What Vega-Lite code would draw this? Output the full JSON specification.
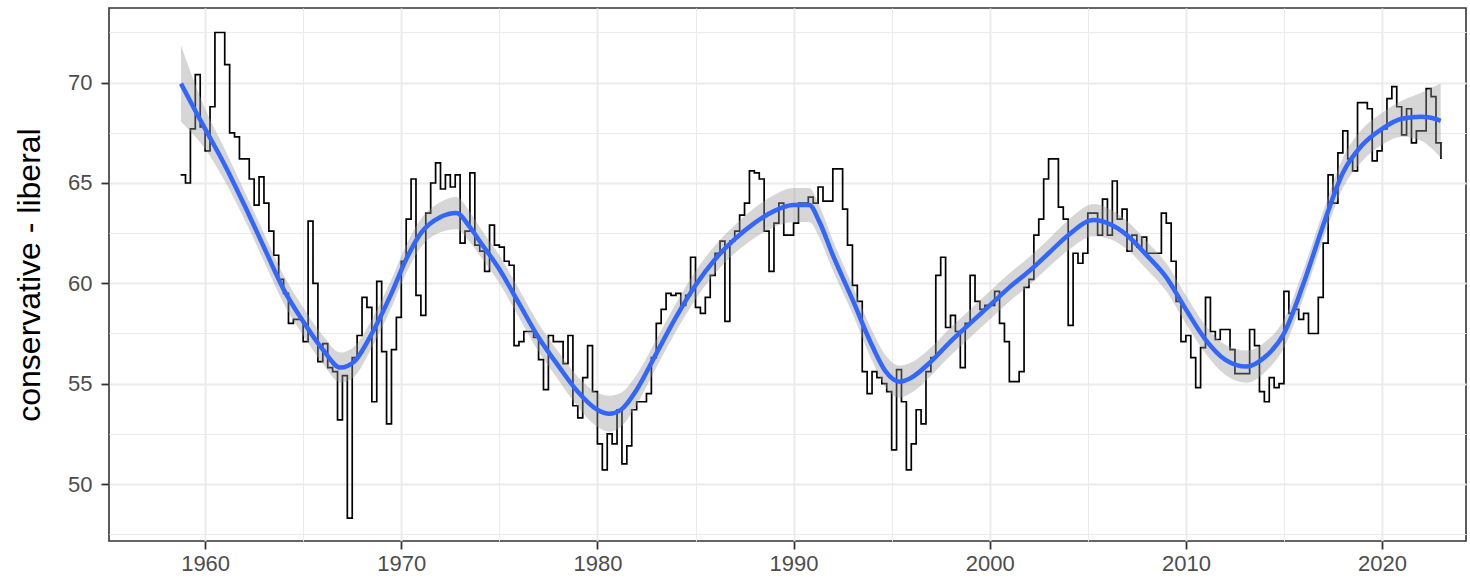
{
  "$schema": "https://vega.github.io/schema/vega-lite/v6.json",
  "width": 1357,
  "height": 533,
  "autosize": "none",
  "padding": {"left": 109, "top": 8, "right": 4, "bottom": 43},
  "background": "white",
  "config": {
    "view": {"stroke": "#333333", "strokeWidth": 1.6},
    "axis": {"labelFont": "Liberation Sans", "titleFont": "Liberation Sans", "domain": false, "labelFlush": false, "labelOverlap": false}
  },
  "datasets": {
    "series": [
      {"t":1958.75,"v":65.4},{"t":1959.0,"v":65.0},{"t":1959.25,"v":67.7},{"t":1959.5,"v":70.4},{"t":1959.75,"v":67.8},
      {"t":1960.0,"v":66.6},{"t":1960.25,"v":68.8},{"t":1960.5,"v":72.5},{"t":1960.75,"v":72.5},
      {"t":1961.0,"v":70.9},{"t":1961.25,"v":67.5},{"t":1961.5,"v":67.3},{"t":1961.75,"v":66.2},
      {"t":1962.0,"v":66.2},{"t":1962.25,"v":65.2},{"t":1962.5,"v":63.9},{"t":1962.75,"v":65.3},
      {"t":1963.0,"v":64.0},{"t":1963.25,"v":62.6},{"t":1963.5,"v":61.4},{"t":1963.75,"v":60.2},
      {"t":1964.0,"v":59.5},{"t":1964.25,"v":58.0},{"t":1964.5,"v":58.2},{"t":1964.75,"v":58.2},
      {"t":1965.0,"v":57.1},{"t":1965.25,"v":63.1},{"t":1965.5,"v":60.0},{"t":1965.75,"v":56.1},
      {"t":1966.0,"v":57.0},{"t":1966.25,"v":55.8},{"t":1966.5,"v":55.6},{"t":1966.75,"v":53.2},
      {"t":1967.0,"v":55.4},{"t":1967.25,"v":48.3},{"t":1967.5,"v":56.3},{"t":1967.75,"v":57.4},
      {"t":1968.0,"v":59.3},{"t":1968.25,"v":58.8},{"t":1968.5,"v":54.1},{"t":1968.75,"v":60.1},
      {"t":1969.0,"v":56.6},{"t":1969.25,"v":53.0},{"t":1969.5,"v":56.7},{"t":1969.75,"v":58.3},
      {"t":1970.0,"v":61.1},{"t":1970.25,"v":63.2},{"t":1970.5,"v":65.2},{"t":1970.75,"v":59.4},
      {"t":1971.0,"v":58.4},{"t":1971.25,"v":63.5},{"t":1971.5,"v":65.0},{"t":1971.75,"v":66.0},
      {"t":1972.0,"v":64.7},{"t":1972.25,"v":65.4},{"t":1972.5,"v":64.8},{"t":1972.75,"v":65.4},
      {"t":1973.0,"v":62.0},{"t":1973.25,"v":62.6},{"t":1973.5,"v":65.5},{"t":1973.75,"v":61.9},
      {"t":1974.0,"v":61.6},{"t":1974.25,"v":60.6},{"t":1974.5,"v":62.9},{"t":1974.75,"v":61.9},
      {"t":1975.0,"v":61.8},{"t":1975.25,"v":61.1},{"t":1975.5,"v":60.9},{"t":1975.75,"v":56.9},
      {"t":1976.0,"v":57.1},{"t":1976.25,"v":57.6},{"t":1976.5,"v":57.6},{"t":1976.75,"v":57.3},
      {"t":1977.0,"v":56.2},{"t":1977.25,"v":54.7},{"t":1977.5,"v":57.4},{"t":1977.75,"v":57.1},
      {"t":1978.0,"v":57.1},{"t":1978.25,"v":56.0},{"t":1978.5,"v":57.4},{"t":1978.75,"v":53.9},
      {"t":1979.0,"v":53.3},{"t":1979.25,"v":55.3},{"t":1979.5,"v":56.9},{"t":1979.75,"v":54.6},
      {"t":1980.0,"v":52.0},{"t":1980.25,"v":50.7},{"t":1980.5,"v":52.5},{"t":1980.75,"v":52.0},
      {"t":1981.0,"v":53.7},{"t":1981.25,"v":51.0},{"t":1981.5,"v":51.9},{"t":1981.75,"v":53.7},
      {"t":1982.0,"v":54.1},{"t":1982.25,"v":54.1},{"t":1982.5,"v":54.5},{"t":1982.75,"v":56.3},
      {"t":1983.0,"v":58.0},{"t":1983.25,"v":58.7},{"t":1983.5,"v":59.5},{"t":1983.75,"v":59.4},
      {"t":1984.0,"v":59.5},{"t":1984.25,"v":58.9},{"t":1984.5,"v":59.4},{"t":1984.75,"v":61.3},
      {"t":1985.0,"v":58.8},{"t":1985.25,"v":58.5},{"t":1985.5,"v":59.3},{"t":1985.75,"v":60.4},
      {"t":1986.0,"v":61.5},{"t":1986.25,"v":62.1},{"t":1986.5,"v":58.1},{"t":1986.75,"v":62.1},
      {"t":1987.0,"v":62.6},{"t":1987.25,"v":63.4},{"t":1987.5,"v":64.0},{"t":1987.75,"v":65.6},
      {"t":1988.0,"v":65.5},{"t":1988.25,"v":65.2},{"t":1988.5,"v":62.6},{"t":1988.75,"v":60.6},
      {"t":1989.0,"v":63.0},{"t":1989.25,"v":64.0},{"t":1989.5,"v":62.4},{"t":1989.75,"v":62.4},
      {"t":1990.0,"v":63.0},{"t":1990.25,"v":64.0},{"t":1990.5,"v":64.0},{"t":1990.75,"v":64.3},
      {"t":1991.0,"v":64.0},{"t":1991.25,"v":64.8},{"t":1991.5,"v":64.1},{"t":1991.75,"v":64.1},
      {"t":1992.0,"v":65.7},{"t":1992.25,"v":65.7},{"t":1992.5,"v":63.7},{"t":1992.75,"v":61.9},
      {"t":1993.0,"v":59.9},{"t":1993.25,"v":59.1},{"t":1993.5,"v":55.6},{"t":1993.75,"v":54.5},
      {"t":1994.0,"v":55.6},{"t":1994.25,"v":55.3},{"t":1994.5,"v":55.0},{"t":1994.75,"v":54.6},
      {"t":1995.0,"v":51.7},{"t":1995.25,"v":55.7},{"t":1995.5,"v":54.1},{"t":1995.75,"v":50.7},
      {"t":1996.0,"v":52.0},{"t":1996.25,"v":53.7},{"t":1996.5,"v":53.0},{"t":1996.75,"v":55.6},
      {"t":1997.0,"v":56.3},{"t":1997.25,"v":60.4},{"t":1997.5,"v":61.3},{"t":1997.75,"v":57.8},
      {"t":1998.0,"v":58.4},{"t":1998.25,"v":57.6},{"t":1998.5,"v":55.8},{"t":1998.75,"v":58.0},
      {"t":1999.0,"v":60.4},{"t":1999.25,"v":59.1},{"t":1999.5,"v":58.7},{"t":1999.75,"v":58.9},
      {"t":2000.0,"v":58.9},{"t":2000.25,"v":59.6},{"t":2000.5,"v":58.0},{"t":2000.75,"v":57.1},
      {"t":2001.0,"v":55.1},{"t":2001.25,"v":55.1},{"t":2001.5,"v":55.6},{"t":2001.75,"v":59.8},
      {"t":2002.0,"v":60.2},{"t":2002.25,"v":62.4},{"t":2002.5,"v":63.2},{"t":2002.75,"v":65.2},
      {"t":2003.0,"v":66.2},{"t":2003.25,"v":66.2},{"t":2003.5,"v":63.8},{"t":2003.75,"v":63.2},
      {"t":2004.0,"v":57.9},{"t":2004.25,"v":61.5},{"t":2004.5,"v":61.0},{"t":2004.75,"v":61.5},
      {"t":2005.0,"v":63.5},{"t":2005.25,"v":63.5},{"t":2005.5,"v":62.4},{"t":2005.75,"v":64.2},
      {"t":2006.0,"v":62.4},{"t":2006.25,"v":65.1},{"t":2006.5,"v":63.2},{"t":2006.75,"v":63.7},
      {"t":2007.0,"v":61.6},{"t":2007.25,"v":62.4},{"t":2007.5,"v":61.8},{"t":2007.75,"v":62.3},
      {"t":2008.0,"v":61.5},{"t":2008.25,"v":61.5},{"t":2008.5,"v":61.5},{"t":2008.75,"v":63.5},
      {"t":2009.0,"v":63.0},{"t":2009.25,"v":61.1},{"t":2009.5,"v":59.1},{"t":2009.75,"v":57.1},
      {"t":2010.0,"v":57.4},{"t":2010.25,"v":56.3},{"t":2010.5,"v":54.8},{"t":2010.75,"v":56.8},
      {"t":2011.0,"v":59.3},{"t":2011.25,"v":57.6},{"t":2011.5,"v":57.2},{"t":2011.75,"v":57.7},
      {"t":2012.0,"v":57.7},{"t":2012.25,"v":56.7},{"t":2012.5,"v":55.5},{"t":2012.75,"v":55.5},
      {"t":2013.0,"v":55.5},{"t":2013.25,"v":57.7},{"t":2013.5,"v":56.9},{"t":2013.75,"v":54.6},
      {"t":2014.0,"v":54.1},{"t":2014.25,"v":55.3},{"t":2014.5,"v":54.8},{"t":2014.75,"v":55.0},
      {"t":2015.0,"v":59.6},{"t":2015.25,"v":58.5},{"t":2015.5,"v":58.7},{"t":2015.75,"v":58.2},
      {"t":2016.0,"v":58.5},{"t":2016.25,"v":57.5},{"t":2016.5,"v":57.5},{"t":2016.75,"v":59.3},
      {"t":2017.0,"v":62.0},{"t":2017.25,"v":65.4},{"t":2017.5,"v":64.0},{"t":2017.75,"v":66.5},
      {"t":2018.0,"v":67.6},{"t":2018.25,"v":66.2},{"t":2018.5,"v":65.6},{"t":2018.75,"v":69.0},
      {"t":2019.0,"v":69.0},{"t":2019.25,"v":68.7},{"t":2019.5,"v":66.1},{"t":2019.75,"v":66.6},
      {"t":2020.0,"v":67.7},{"t":2020.25,"v":69.2},{"t":2020.5,"v":69.8},{"t":2020.75,"v":68.8},
      {"t":2021.0,"v":67.4},{"t":2021.25,"v":68.7},{"t":2021.5,"v":67.0},{"t":2021.75,"v":67.6},
      {"t":2022.0,"v":67.6},{"t":2022.25,"v":69.7},{"t":2022.5,"v":69.3},{"t":2022.75,"v":67.0},
      {"t":2023.0,"v":66.2}
    ],
    "smooth": [
      {"t":1958.77,"fit":69.95,"lo":68.05,"hi":71.85},
      {"t":1959.5,"fit":68.6,"lo":67.3,"hi":69.9},
      {"t":1960,"fit":67.7,"lo":66.7,"hi":68.7},
      {"t":1961,"fit":65.9,"lo":65.1,"hi":66.7},
      {"t":1962,"fit":63.9,"lo":63.2,"hi":64.6},
      {"t":1963,"fit":61.8,"lo":61.1,"hi":62.5},
      {"t":1964,"fit":59.7,"lo":59.0,"hi":60.4},
      {"t":1965,"fit":58.1,"lo":57.4,"hi":58.8},
      {"t":1966,"fit":56.7,"lo":56.0,"hi":57.4},
      {"t":1966.9,"fit":55.8,"lo":55.05,"hi":56.55},
      {"t":1967.6,"fit":56.1,"lo":55.35,"hi":56.85},
      {"t":1968.5,"fit":57.5,"lo":56.8,"hi":58.2},
      {"t":1969.5,"fit":59.5,"lo":58.8,"hi":60.2},
      {"t":1970.25,"fit":61.2,"lo":60.5,"hi":61.9},
      {"t":1971,"fit":62.5,"lo":61.8,"hi":63.2},
      {"t":1972,"fit":63.3,"lo":62.55,"hi":64.05},
      {"t":1972.8,"fit":63.5,"lo":62.7,"hi":64.3},
      {"t":1973.5,"fit":62.8,"lo":62.05,"hi":63.55},
      {"t":1974,"fit":62.1,"lo":61.4,"hi":62.8},
      {"t":1975,"fit":60.7,"lo":60.0,"hi":61.4},
      {"t":1976,"fit":59.0,"lo":58.3,"hi":59.7},
      {"t":1977,"fit":57.3,"lo":56.6,"hi":58.0},
      {"t":1978,"fit":55.9,"lo":55.2,"hi":56.6},
      {"t":1979,"fit":54.6,"lo":53.85,"hi":55.35},
      {"t":1980,"fit":53.7,"lo":52.85,"hi":54.55},
      {"t":1980.6,"fit":53.5,"lo":52.6,"hi":54.4},
      {"t":1981.2,"fit":53.7,"lo":52.85,"hi":54.55},
      {"t":1982,"fit":54.7,"lo":53.95,"hi":55.45},
      {"t":1983,"fit":56.5,"lo":55.8,"hi":57.2},
      {"t":1984,"fit":58.3,"lo":57.6,"hi":59.0},
      {"t":1985,"fit":59.9,"lo":59.2,"hi":60.6},
      {"t":1986,"fit":61.2,"lo":60.5,"hi":61.9},
      {"t":1987,"fit":62.2,"lo":61.5,"hi":62.9},
      {"t":1988,"fit":63.0,"lo":62.25,"hi":63.75},
      {"t":1989,"fit":63.6,"lo":62.8,"hi":64.4},
      {"t":1990,"fit":63.9,"lo":63.05,"hi":64.75},
      {"t":1990.8,"fit":63.9,"lo":63.05,"hi":64.75},
      {"t":1991.3,"fit":63.1,"lo":62.3,"hi":63.9},
      {"t":1992,"fit":61.4,"lo":60.65,"hi":62.15},
      {"t":1993,"fit":59.2,"lo":58.5,"hi":59.9},
      {"t":1994,"fit":56.9,"lo":56.15,"hi":57.65},
      {"t":1994.7,"fit":55.6,"lo":54.8,"hi":56.4},
      {"t":1995.4,"fit":55.1,"lo":54.3,"hi":55.9},
      {"t":1996,"fit":55.3,"lo":54.55,"hi":56.05},
      {"t":1997,"fit":56.1,"lo":55.4,"hi":56.8},
      {"t":1998,"fit":57.1,"lo":56.4,"hi":57.8},
      {"t":1999,"fit":58.0,"lo":57.3,"hi":58.7},
      {"t":2000,"fit":58.9,"lo":58.2,"hi":59.6},
      {"t":2001,"fit":59.8,"lo":59.1,"hi":60.5},
      {"t":2002,"fit":60.6,"lo":59.9,"hi":61.3},
      {"t":2003,"fit":61.5,"lo":60.8,"hi":62.2},
      {"t":2004,"fit":62.4,"lo":61.65,"hi":63.15},
      {"t":2005.3,"fit":63.15,"lo":62.35,"hi":63.95},
      {"t":2006,"fit":63.0,"lo":62.25,"hi":63.75},
      {"t":2007,"fit":62.4,"lo":61.7,"hi":63.1},
      {"t":2008,"fit":61.4,"lo":60.7,"hi":62.1},
      {"t":2009,"fit":60.3,"lo":59.6,"hi":61.0},
      {"t":2010,"fit":58.7,"lo":58.0,"hi":59.4},
      {"t":2011,"fit":57.2,"lo":56.5,"hi":57.9},
      {"t":2012,"fit":56.2,"lo":55.45,"hi":56.95},
      {"t":2013.1,"fit":55.85,"lo":55.05,"hi":56.65},
      {"t":2014,"fit":56.3,"lo":55.55,"hi":57.05},
      {"t":2015,"fit":57.5,"lo":56.8,"hi":58.2},
      {"t":2016,"fit":60.0,"lo":59.3,"hi":60.7},
      {"t":2017,"fit":62.9,"lo":62.2,"hi":63.6},
      {"t":2018,"fit":65.5,"lo":64.75,"hi":66.25},
      {"t":2019,"fit":66.9,"lo":66.1,"hi":67.7},
      {"t":2020,"fit":67.7,"lo":66.9,"hi":68.5},
      {"t":2021,"fit":68.2,"lo":67.3,"hi":69.1},
      {"t":2022,"fit":68.3,"lo":67.1,"hi":69.5},
      {"t":2022.5,"fit":68.25,"lo":66.75,"hi":69.75},
      {"t":2022.99,"fit":68.1,"lo":66.25,"hi":69.95}
    ]
  },
  "layer": [
    {
      "data": {"name": "series"},
      "mark": {"type": "line", "interpolate": "step-after", "color": "#000000", "strokeWidth": 1.7},
      "encoding": {
        "x": {"field": "t", "type": "quantitative",
          "scale": {"domain": [1955.1, 2024.28], "nice": false, "zero": false},
          "axis": {"orient": "bottom", "values": [1955, 1965, 1975, 1985, 1995, 2005, 2015], "grid": true, "gridColor": "#EBEBEB", "gridWidth": 1, "labels": false, "ticks": false, "domain": false, "title": null}},
        "y": {"field": "v", "type": "quantitative",
          "scale": {"domain": [47.16, 73.72], "nice": false, "zero": false},
          "axis": {"orient": "left", "values": [47.5, 52.5, 57.5, 62.5, 67.5, 72.5], "grid": true, "gridColor": "#EBEBEB", "gridWidth": 1, "labels": false, "ticks": false, "domain": false, "title": null}}
      }
    },
    {
      "data": {"name": "smooth"},
      "mark": {"type": "area", "interpolate": "monotone", "color": "#999999", "opacity": 0.4},
      "encoding": {
        "x": {"field": "t", "type": "quantitative",
          "scale": {"domain": [1955.1, 2024.28], "nice": false, "zero": false},
          "axis": {"orient": "bottom", "values": [1960, 1970, 1980, 1990, 2000, 2010, 2020], "format": "d", "grid": true, "gridColor": "#EBEBEB", "gridWidth": 2, "ticks": true, "tickSize": 8, "tickWidth": 1.8, "tickColor": "#333333", "labelFontSize": 22, "labelColor": "#4D4D4D", "labelPadding": 4, "domain": false, "title": null}},
        "y": {"field": "lo", "type": "quantitative",
          "scale": {"domain": [47.16, 73.72], "nice": false, "zero": false},
          "axis": {"orient": "left", "values": [50, 55, 60, 65, 70], "grid": true, "gridColor": "#EBEBEB", "gridWidth": 2, "ticks": true, "tickSize": 8, "tickWidth": 1.8, "tickColor": "#333333", "labelFontSize": 22, "labelColor": "#4D4D4D", "labelPadding": 9, "domain": false, "title": "conservative - liberal", "titleFontSize": 32, "titleFontWeight": "normal", "titleColor": "#000000", "titlePadding": 21}},
        "y2": {"field": "hi"}
      }
    },
    {
      "data": {"name": "smooth"},
      "mark": {"type": "line", "interpolate": "monotone", "color": "#3366FF", "strokeWidth": 4.5},
      "encoding": {
        "x": {"field": "t", "type": "quantitative", "axis": null},
        "y": {"field": "fit", "type": "quantitative", "axis": null}
      }
    }
  ],
  "resolve": {"axis": {"x": "independent", "y": "independent"}}
}
